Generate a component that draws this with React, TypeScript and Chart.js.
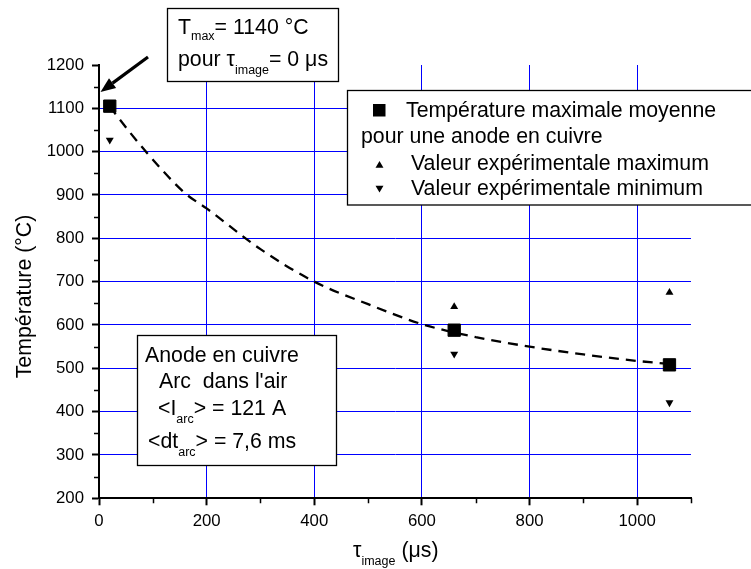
import { useEffect, useRef } from "react";
import { Chart, registerables } from "chart.js";

Chart.register(...registerables);

const W = 751;
const H = 569;
const FF = "'Liberation Sans', Arial, Helvetica, sans-serif";
const TXT = 21.3;
const SUB = 12.5;

// ---- data ----
const tauMean = [20, 660, 1060];
const tempMean = [1105, 588, 508];
const tauMax = [660, 1060];
const tempMax = [642, 675];
const tauMin = [20, 660, 1060];
const tempMin = [1027, 533, 421];
const fitTau = [20, 30, 90, 160, 200, 300, 400, 500, 600, 700, 800, 900, 1000, 1060];
const fitTemp = [1105, 1088, 996, 904, 869, 775, 700, 648, 602, 572, 550, 532, 517, 510];

const xMajorTicks = [0, 200, 400, 600, 800, 1000];
const xMinorTicks = [100, 300, 500, 700, 900, 1100];
const yMajorTicks = [200, 300, 400, 500, 600, 700, 800, 900, 1000, 1100, 1200];
const yMinorTicks = [250, 350, 450, 550, 650, 750, 850, 950, 1050, 1150];

const tMaxAnnot = { tau: 0, temp: 1140 };

const zip = (xs: number[], ys: number[]) => xs.map((x, i) => ({ x, y: ys[i] }));

type Part = [string, boolean];
function rich(ctx: CanvasRenderingContext2D, x: number, y: number, parts: Part[], size: number, subSize: number, subDy: number) {
  let cx = x;
  for (const [t, sub] of parts) {
    ctx.font = `${sub ? subSize : size}px ${FF}`;
    ctx.fillText(t, cx, sub ? y + subDy : y);
    cx += ctx.measureText(t).width;
  }
}

function box(ctx: CanvasRenderingContext2D, l: number, t: number, r: number, b: number) {
  ctx.save();
  ctx.fillStyle = "#fff";
  ctx.fillRect(l, t, r - l, b - t);
  ctx.strokeStyle = "#000";
  ctx.lineWidth = 1.3;
  ctx.strokeRect(l, t, r - l, b - t);
  ctx.restore();
}

function tri(ctx: CanvasRenderingContext2D, x: number, y: number, r: number, down: boolean) {
  const s = down ? -1 : 1;
  ctx.beginPath();
  ctx.moveTo(x, y - s * r);
  ctx.lineTo(x + r * 0.866, y + s * r * 0.5);
  ctx.lineTo(x - r * 0.866, y + s * r * 0.5);
  ctx.closePath();
  ctx.fill();
}

const annotPlugin = {
  id: "annot",
  afterDraw(chart: any) {
    const ctx: CanvasRenderingContext2D = chart.ctx;
    const xs = chart.scales.x;
    const ys = chart.scales.y;
    const area = chart.chartArea;
    ctx.save();
    // minor ticks
    ctx.strokeStyle = "#000";
    ctx.lineWidth = 1.5;
    ctx.beginPath();
    for (const v of xMinorTicks) {
      const px = Math.round(xs.getPixelForValue(v)) + 0.5;
      ctx.moveTo(px, area.bottom);
      ctx.lineTo(px, area.bottom + 5);
    }
    for (const v of yMinorTicks) {
      const py = Math.round(ys.getPixelForValue(v)) + 0.5;
      ctx.moveTo(area.left - 5, py);
      ctx.lineTo(area.left, py);
    }
    ctx.stroke();

    ctx.fillStyle = "#000";
    ctx.textBaseline = "alphabetic";
    ctx.textAlign = "left";

    // top annotation box
    box(ctx, 167.5, 8.5, 338.5, 81.5);
    rich(ctx, 178, 33.5, [["T", false], ["max", true], ["= 1140 °C", false]], TXT, SUB, 6.5);
    rich(ctx, 178, 66, [["pour τ", false], ["image", true], ["= 0 μs", false]], TXT, SUB, 7.5);

    // arrow
    const tipX = xs.getPixelForValue(tMaxAnnot.tau) + 1.5;
    const tipY = ys.getPixelForValue(tMaxAnnot.temp) + 1;
    const sx = 148, sy = 57;
    const ang = Math.atan2(tipY - sy, tipX - sx);
    const hl = 15, hw = 6;
    const bx = tipX - hl * Math.cos(ang), by = tipY - hl * Math.sin(ang);
    ctx.lineWidth = 3.2;
    ctx.beginPath();
    ctx.moveTo(sx, sy);
    ctx.lineTo(bx, by);
    ctx.stroke();
    ctx.beginPath();
    ctx.moveTo(tipX, tipY);
    ctx.lineTo(bx + hw * Math.sin(ang), by - hw * Math.cos(ang));
    ctx.lineTo(bx - hw * Math.sin(ang), by + hw * Math.cos(ang));
    ctx.closePath();
    ctx.fill();

    // legend box
    box(ctx, 347.5, 90.5, 760, 205);
    ctx.fillRect(373, 104, 12.5, 12.5);
    ctx.font = `${TXT}px ${FF}`;
    ctx.fillText("Température maximale moyenne", 406, 116.5);
    ctx.fillText("pour une anode en cuivre", 361, 143);
    tri(ctx, 379.5, 165.5, 4.6, false);
    ctx.fillText("Valeur expérimentale maximum", 411, 170);
    tri(ctx, 379.5, 188, 4.6, true);
    ctx.fillText("Valeur expérimentale minimum", 411, 195);

    // anode box
    box(ctx, 137.5, 335.5, 336.5, 465.5);
    ctx.font = `${TXT}px ${FF}`;
    ctx.fillText("Anode en cuivre", 145, 362);
    ctx.fillText("Arc  dans l'air", 159, 388);
    rich(ctx, 158, 415, [["<I", false], ["arc", true], ["> = 121 A", false]], TXT, SUB, 8);
    rich(ctx, 148, 448, [["<dt", false], ["arc", true], ["> = 7,6 ms", false]], TXT, SUB, 8);

    // axis titles
    rich(ctx, 353, 556.5, [["τ", false], ["image", true], [" (μs)", false]], TXT, SUB, 8);
    ctx.save();
    ctx.translate(31, 296.5);
    ctx.rotate(-Math.PI / 2);
    ctx.textAlign = "center";
    ctx.font = `${TXT}px ${FF}`;
    ctx.fillText("Température (°C)", 0, 0);
    ctx.restore();

    ctx.restore();
  },
};

export default function App() {
  const ref = useRef<HTMLCanvasElement>(null);
  useEffect(() => {
    document.body.style.margin = "0";
    const canvas = ref.current!;
    const chart = new Chart(canvas, {
      type: "scatter",
      data: {
        datasets: [
          {
            label: "Température maximale moyenne",
            data: zip(tauMean, tempMean),
            pointStyle: "rect",
            pointRadius: 8.7,
            pointBackgroundColor: "#000",
            pointBorderColor: "#000",
            pointBorderWidth: 1,
            order: 1,
          },
          {
            label: "Valeur expérimentale maximum",
            data: zip(tauMax, tempMax),
            pointStyle: "triangle",
            pointRadius: 4.6,
            pointBackgroundColor: "#000",
            pointBorderColor: "#000",
            pointBorderWidth: 0,
            order: 2,
          },
          {
            label: "Valeur expérimentale minimum",
            data: zip(tauMin, tempMin),
            pointStyle: "triangle",
            rotation: 180,
            pointRadius: 4.6,
            pointBackgroundColor: "#000",
            pointBorderColor: "#000",
            pointBorderWidth: 0,
            order: 3,
          },
          {
            label: "fit",
            data: zip(fitTau, fitTemp),
            showLine: true,
            borderColor: "#000",
            borderWidth: 2.3,
            borderDash: [10, 7],
            cubicInterpolationMode: "monotone",
            pointRadius: 0,
            order: 4,
          } as any,
        ],
      },
      options: {
        animation: false,
        responsive: false,
        devicePixelRatio: 1,
        layout: { padding: { left: 0, right: 60, top: 65, bottom: 0 } },
        plugins: { legend: { display: false }, tooltip: { enabled: false }, title: { display: false } },
        scales: {
          x: {
            type: "linear",
            min: 0,
            max: 1100,
            afterFit(s: any) {
              s.height = 70.7;
              s.paddingLeft = 0;
              s.paddingRight = 0;
            },
            ticks: {
              stepSize: 100,
              autoSkip: false,
              maxRotation: 0,
              color: "#000",
              padding: 6,
              font: { family: FF, size: 16.8 },
              callback: (v: any) => (xMajorTicks.includes(Number(v)) ? String(v) : ""),
            },
            grid: {
              color: (c: any) => {
                const v = c.tick?.value;
                return xMajorTicks.includes(v) && v !== 0 ? "#0000ff" : "rgba(0,0,0,0)";
              },
              lineWidth: 1,
              drawTicks: true,
              tickLength: 7,
              tickWidth: 2,
              tickColor: (c: any) => (xMajorTicks.includes(c.tick?.value) ? "#000" : "rgba(0,0,0,0)"),
            },
            border: { color: "#000", width: 2 },
          },
          y: {
            type: "linear",
            min: 200,
            max: 1200,
            afterFit(s: any) {
              s.width = 99;
              s.paddingTop = 0;
              s.paddingBottom = 0;
            },
            ticks: {
              stepSize: 50,
              autoSkip: false,
              color: "#000",
              padding: 8,
              font: { family: FF, size: 16.8 },
              callback: (v: any) => (yMajorTicks.includes(Number(v)) ? String(v) : ""),
            },
            grid: {
              color: (c: any) => {
                const v = c.tick?.value;
                return yMajorTicks.includes(v) && v !== 200 && v !== 1200 ? "#0000ff" : "rgba(0,0,0,0)";
              },
              lineWidth: 1,
              drawTicks: true,
              tickLength: 7,
              tickWidth: 2,
              tickColor: (c: any) => (yMajorTicks.includes(c.tick?.value) ? "#000" : "rgba(0,0,0,0)"),
            },
            border: { color: "#000", width: 2 },
          },
        },
      },
      plugins: [annotPlugin],
    } as any);
    return () => chart.destroy();
  }, []);
  return (
    <div style={{ width: W, height: H }}>
      <canvas ref={ref} width={W} height={H} style={{ display: "block" }} />
    </div>
  );
}
